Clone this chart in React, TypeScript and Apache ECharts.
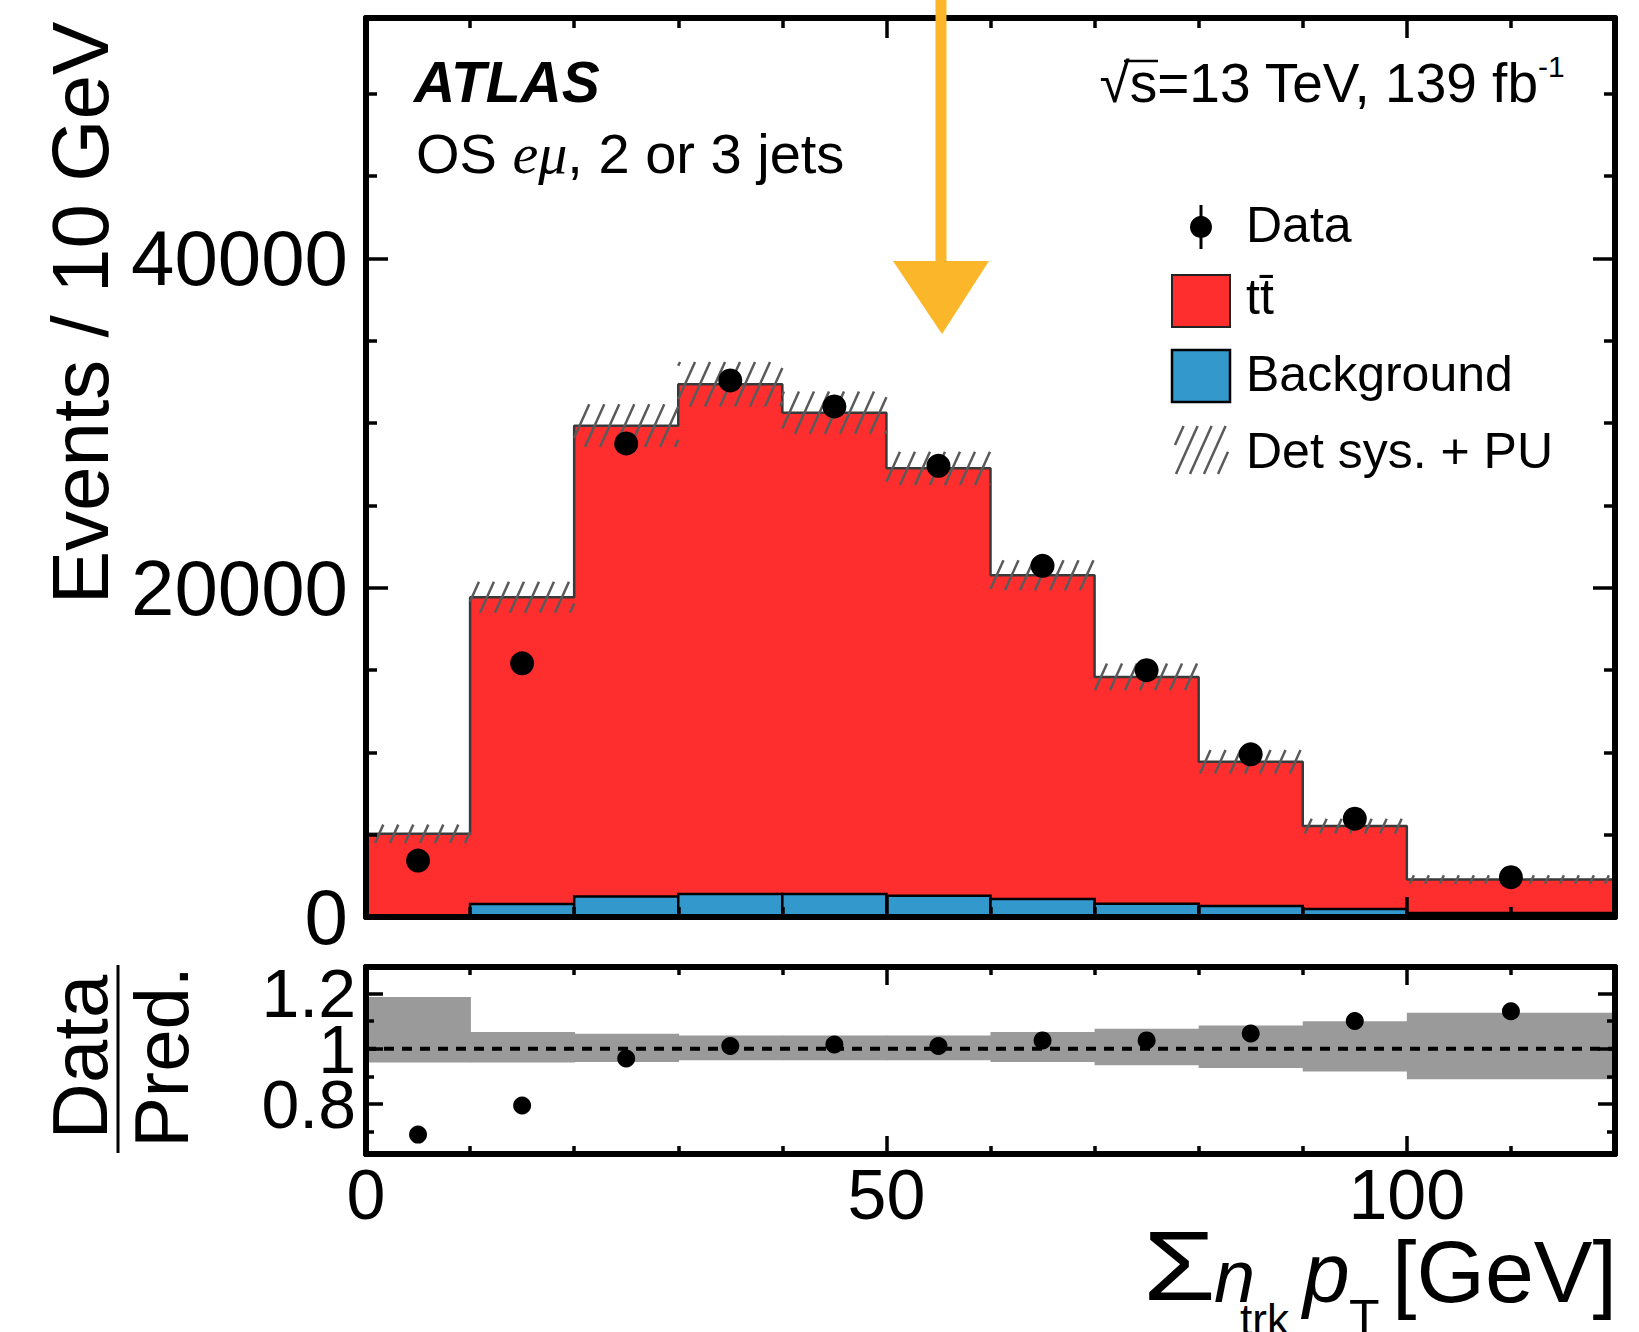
import React, { useEffect, useRef } from "react";
import * as echarts from "echarts";

// ---------------- data ----------------
const binEdges = [0, 10, 20, 30, 40, 50, 60, 70, 80, 90, 100, 120];
const binCenters = [5, 15, 25, 35, 45, 55, 65, 75, 85, 95, 110];
const ttbarValues = [4970, 18630, 28590, 30960, 29230, 25960, 19660, 13780, 8760, 5030, 2030];
const backgroundValues = [80, 790, 1250, 1400, 1400, 1290, 1100, 800, 670, 490, 250];
const dataValues = [3430, 15410, 28760, 32590, 31010, 27400, 21330, 14990, 9880, 5970, 2420];
const detSysUnc = [560, 940, 1300, 1350, 1280, 1010, 910, 810, 710, 450, 260];
const ratioValues = [0.69, 0.795, 0.965, 1.01, 1.015, 1.01, 1.03, 1.03, 1.055, 1.1, 1.135];
const ratioBandUp = [1.187, 1.06, 1.054, 1.048, 1.048, 1.048, 1.06, 1.072, 1.084, 1.099, 1.13];
const ratioBandDown = [0.95, 0.95, 0.952, 0.958, 0.958, 0.958, 0.952, 0.94, 0.93, 0.918, 0.89];
const ratioReference = 1;
const ratioMajorTicks = [0.8, 1, 1.2];
const ratioMinorTicks = [0.7, 0.9, 1.1];
const ratioOuterLabels = [0.8, 1.2];
const ratioCentreLabels = [1];

const FONT = "'Liberation Sans', Arial, Helvetica, sans-serif";
const SERIF = "'Liberation Serif', 'Times New Roman', serif";
const RED = "#FE2E2E";
const BLUE = "#3399CC";
const ORANGE = "#FBB62A";
const HATCH = "#5a5a5a";

function hatchLines(x0: number, x1: number, yTop: number, yBot: number, spacing: number, k: number, style: any) {
  const lines: any[] = [];
  const h = yBot - yTop;
  const cStart = Math.floor((x0 - h * k) / spacing) * spacing;
  for (let c = cStart; c <= x1; c += spacing) {
    const yA = yBot - (x0 - c) / k;
    const yB = yBot - (x1 - c) / k;
    const ya = Math.max(yTop, yB);
    const yb = Math.min(yBot, yA);
    if (yb - ya > 0.5) {
      lines.push({
        type: "line",
        shape: { x1: c + (yBot - yb) * k, y1: yb, x2: c + (yBot - ya) * k, y2: ya },
        style,
      });
    }
  }
  return lines;
}

function buildOption() {
  const totalPred = ttbarValues.map((v, i) => v + backgroundValues[i]);
  const bins = binEdges.slice(0, -1).map((lo, i) => [lo, binEdges[i + 1]]);
  const stepData = [
    ...bins.map(([lo], i) => [lo, totalPred[i]]),
    [binEdges[binEdges.length - 1], totalPred[totalPred.length - 1]],
  ];
  const blueData = bins.map(([lo, hi], i) => [lo, hi, 0, backgroundValues[i]]);
  const hatchData = bins.map(([lo, hi], i) => [lo, hi, totalPred[i] - detSysUnc[i], totalPred[i] + detSysUnc[i]]);
  const bandData = bins.map(([lo, hi], i) => [lo, hi, ratioBandDown[i], ratioBandUp[i]]);
  const mainPoints = binCenters.map((x, i) => [x, dataValues[i]]);
  const ratioPoints = binCenters.map((x, i) => [x, ratioValues[i]]);
  const refLine = [
    [binEdges[0], ratioReference],
    [binEdges[binEdges.length - 1], ratioReference],
  ];

  const black = { color: "#000", width: 6 };
  const tickStyle = { color: "#000", width: 3.5 };

  const xAxisBase = (grid: number, pos: string, major: number, minor: number, labels: boolean) => ({
    gridIndex: grid,
    type: "value",
    min: 0,
    max: 120,
    interval: 50,
    position: pos,
    z: 10,
    axisLine: { show: true, onZero: false, lineStyle: black },
    axisTick: { show: true, inside: true, length: major, lineStyle: tickStyle },
    minorTick: { show: true, splitNumber: 5, length: minor, lineStyle: tickStyle },
    splitLine: { show: false },
    minorSplitLine: { show: false },
    axisLabel: labels
      ? {
          show: true,
          fontSize: 70,
          fontFamily: FONT,
          color: "#000",
          margin: 6,
          showMaxLabel: false,
          formatter: (v: number) => String(v),
        }
      : { show: false },
  });

  const ratioY = (pos: string, ticks: number[], len: number, line: boolean, labels: number[] | null) => ({
    gridIndex: 1,
    type: "value",
    min: 0.62,
    max: 1.295,
    position: pos,
    z: 10,
    axisLine: { show: line, onZero: false, lineStyle: black },
    axisTick: { show: true, inside: true, length: len, lineStyle: tickStyle, customValues: ticks },
    splitLine: { show: false },
    axisLabel: labels
      ? {
          show: true,
          customValues: labels,
          fontSize: 68,
          fontFamily: FONT,
          color: "#000",
          margin: 10,
          hideOverlap: false,
          showMinLabel: true,
          showMaxLabel: true,
          formatter: (v: number) => String(v),
        }
      : { show: false },
  });

  const mainY = (pos: string, labels: boolean) => ({
    gridIndex: 0,
    type: "value",
    min: 0,
    max: 54600,
    interval: 20000,
    position: pos,
    z: 10,
    axisLine: { show: true, onZero: false, lineStyle: black },
    axisTick: { show: true, inside: true, length: 22, lineStyle: tickStyle },
    minorTick: { show: true, splitNumber: 4, length: 11, lineStyle: tickStyle },
    splitLine: { show: false },
    minorSplitLine: { show: false },
    axisLabel: labels
      ? {
          show: true,
          fontSize: 78,
          fontFamily: FONT,
          color: "#000",
          margin: 18,
          showMaxLabel: false,
          formatter: (v: number) => String(v),
        }
      : { show: false },
  });

  const rectRenderer = (fill: string, stroke: string | null, lw: number, overlap: number) => (params: any, api: any) => {
    const a = api.coord([api.value(0), api.value(2)]);
    const b = api.coord([api.value(1), api.value(3)]);
    return {
      type: "rect",
      shape: { x: a[0], y: b[1], width: b[0] - a[0] + overlap, height: a[1] - b[1] },
      style: { fill, stroke: stroke || "none", lineWidth: lw },
    };
  };

  const hatchRenderer = (params: any, api: any) => {
    const a = api.coord([api.value(0), api.value(2)]);
    const b = api.coord([api.value(1), api.value(3)]);
    return {
      type: "group",
      children: hatchLines(a[0], b[0], b[1], a[1], 15, 0.45, { stroke: HATCH, lineWidth: 2.5 }),
    };
  };

  const txt = (text: string, x: number, y: number, size: number, opts: any = {}) => ({
    type: "text",
    x,
    y,
    rotation: opts.rotation || 0,
    scaleX: opts.scaleX || 1,
    z: 50,
    style: {
      text,
      fill: "#000",
      fontSize: size,
      fontFamily: opts.family || FONT,
      fontWeight: opts.weight || "normal",
      fontStyle: opts.style || "normal",
      align: opts.align || "left",
      textAlign: opts.align || "left",
      verticalAlign: "middle",
      textVerticalAlign: "middle",
    },
  });

  const graphic: any[] = [
    // y axis titles
    txt("Events / 10 GeV", 80, 313, 80, { rotation: Math.PI / 2, align: "center" }),
    txt("Data", 80, 1057, 78, { rotation: Math.PI / 2, align: "center" }),
    txt("Pred.", 161, 1057, 76, { rotation: Math.PI / 2, align: "center" }),
    { type: "line", z: 50, shape: { x1: 118, y1: 965, x2: 118, y2: 1153 }, style: { stroke: "#000", lineWidth: 3 } },
    // x axis title
    txt("\u03A3", 1143, 1266, 98, { scaleX: 1.2 }),
    txt("n", 1214, 1276, 74, { style: "italic" }),
    txt("trk", 1240, 1319, 44),
    txt("p", 1303, 1273, 84, { style: "italic" }),
    txt("T", 1349, 1318, 50),
    txt("[GeV]", 1617, 1271, 88, { align: "right" }),
    // labels in plot
    txt("ATLAS", 414, 82, 57, { weight: "bold", style: "italic" }),
    {
      type: "text",
      x: 416,
      y: 153,
      z: 50,
      style: {
        text: "{a|OS }{m|e\u03BC}{a|, 2 or 3 jets}",
        verticalAlign: "middle",
        textVerticalAlign: "middle",
        rich: {
          a: { fontSize: 56, fontFamily: FONT, fill: "#000", color: "#000" },
          m: { fontSize: 58, fontFamily: SERIF, fontStyle: "italic", fill: "#000", color: "#000" },
        },
      },
    },
    txt("\u221As=13 TeV, 139 fb", 1538, 83, 55, { align: "right" }),
    { type: "line", z: 50, shape: { x1: 1124, y1: 61, x2: 1158, y2: 61 }, style: { stroke: "#000", lineWidth: 2.5 } },
    txt("-1", 1538, 66, 30),
    // legend
    { type: "line", z: 50, shape: { x1: 1201, y1: 205, x2: 1201, y2: 249 }, style: { stroke: "#000", lineWidth: 3 } },
    { type: "circle", z: 51, shape: { cx: 1201, cy: 227, r: 11 }, style: { fill: "#000" } },
    { type: "rect", z: 50, shape: { x: 1172, y: 275, width: 58, height: 52 }, style: { fill: RED, stroke: "#222", lineWidth: 2 } },
    { type: "rect", z: 50, shape: { x: 1172, y: 350, width: 58, height: 52 }, style: { fill: BLUE, stroke: "#000", lineWidth: 2.5 } },
    {
      type: "group",
      z: 50,
      children: hatchLines(1175, 1228, 426, 474, 14, 0.45, { stroke: HATCH, lineWidth: 2.5 }),
    },
    txt("Data", 1246, 225, 50),
    txt("tt\u0304", 1246, 297, 50),
    txt("Background", 1246, 374, 50),
    txt("Det sys. + PU", 1246, 451, 50),
    // annotation arrow
    { type: "line", z: 100, shape: { x1: 941, y1: 0, x2: 941, y2: 275 }, style: { stroke: ORANGE, lineWidth: 11 } },
    {
      type: "polygon",
      z: 100,
      shape: { points: [[893, 261], [989, 261], [942, 334]] },
      style: { fill: ORANGE },
    },
  ];

  return {
    animation: false,
    backgroundColor: "#fff",
    textStyle: { fontFamily: FONT },
    grid: [
      { left: 366, top: 18, width: 1249, height: 899, containLabel: false, outerBoundsMode: "none" },
      { left: 366, top: 967, width: 1249, height: 187, containLabel: false, outerBoundsMode: "none" },
    ],
    xAxis: [
      xAxisBase(0, "bottom", 20, 10, false),
      xAxisBase(0, "top", 20, 10, false),
      xAxisBase(1, "bottom", 18, 8, true),
      xAxisBase(1, "top", 18, 8, false),
    ],
    yAxis: [
      mainY("left", true),
      mainY("right", false),
      ratioY("left", ratioMajorTicks, 17, true, ratioOuterLabels),
      ratioY("left", ratioMinorTicks, 8, false, ratioCentreLabels),
      ratioY("right", ratioMajorTicks, 17, true, null),
      ratioY("right", ratioMinorTicks, 8, false, null),
    ],
    series: [
      {
        name: "ttbar",
        type: "line",
        xAxisIndex: 0,
        yAxisIndex: 0,
        step: "end",
        data: stepData,
        symbol: "none",
        z: 2,
        lineStyle: { color: "#3a3a3a", width: 2.5 },
        areaStyle: { color: RED, opacity: 1 },
      },
      {
        name: "Background",
        type: "custom",
        xAxisIndex: 0,
        yAxisIndex: 0,
        z: 3,
        data: blueData,
        encode: { x: [0, 1], y: [2, 3] },
        renderItem: rectRenderer(BLUE, "#000", 2.5, 0),
      },
      {
        name: "Det sys. + PU",
        type: "custom",
        xAxisIndex: 0,
        yAxisIndex: 0,
        z: 4,
        data: hatchData,
        encode: { x: [0, 1], y: [2, 3] },
        renderItem: hatchRenderer,
      },
      {
        name: "Data",
        type: "scatter",
        xAxisIndex: 0,
        yAxisIndex: 0,
        z: 6,
        data: mainPoints,
        symbolSize: 24,
        itemStyle: { color: "#000", opacity: 1 },
      },
      {
        name: "Band",
        type: "custom",
        xAxisIndex: 2,
        yAxisIndex: 2,
        z: 2,
        data: bandData,
        encode: { x: [0, 1], y: [2, 3] },
        renderItem: rectRenderer("#9a9a9a", null, 0, 0.8),
      },
      {
        name: "Ref",
        type: "line",
        xAxisIndex: 2,
        yAxisIndex: 2,
        z: 3,
        data: refLine,
        symbol: "none",
        lineStyle: { color: "#000", width: 4, type: [10, 8] },
      },
      {
        name: "Ratio",
        type: "scatter",
        xAxisIndex: 2,
        yAxisIndex: 2,
        z: 6,
        data: ratioPoints,
        symbolSize: 18,
        itemStyle: { color: "#000", opacity: 1 },
      },
    ],
    graphic,
  };
}

export default function App() {
  const ref = useRef<HTMLDivElement>(null);
  useEffect(() => {
    if (!ref.current) return;
    const chart = echarts.init(ref.current, null, { renderer: "svg" });
    chart.setOption(buildOption() as any);
    return () => chart.dispose();
  }, []);
  return (
    <div
      ref={ref}
      style={{ position: "absolute", left: 0, top: 0, width: 1639, height: 1332, background: "#fff" }}
    />
  );
}
